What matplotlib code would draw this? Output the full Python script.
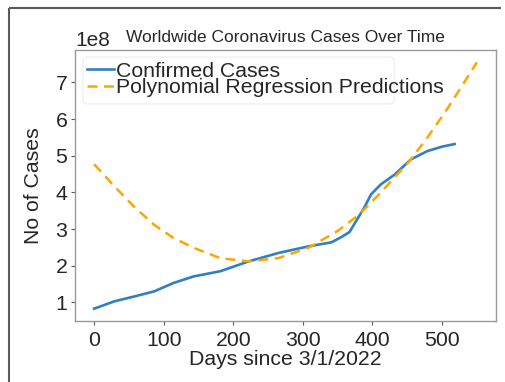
import matplotlib
matplotlib.use("Agg")
import matplotlib.pyplot as plt
from matplotlib.lines import Line2D
from matplotlib.patches import FancyBboxPatch

plt.rcParams['font.family'] = ['Liberation Sans', 'DejaVu Sans']

# Confirmed worldwide cases (in units of 1e8) by day since 3/1/2022
days_confirmed = [0, 29, 57, 86, 114, 143, 181, 222, 265, 308, 341, 355,
                  367, 379, 388, 398, 412, 432, 455, 479, 500, 518]
confirmed = [0.83, 1.03, 1.16, 1.30, 1.53, 1.71, 1.85, 2.12, 2.35, 2.53, 2.64, 2.78,
             2.92, 3.30, 3.58, 3.95, 4.22, 4.49, 4.90, 5.13, 5.25, 5.32]

# Polynomial regression predictions (in units of 1e8)
days_pred = [0, 29, 57, 86, 114, 143, 181, 222, 265, 308, 350, 381,
             412, 453, 477, 503, 525, 550]
predicted = [4.77, 4.17, 3.62, 3.12, 2.76, 2.49, 2.21, 2.12, 2.21, 2.49, 2.95, 3.40,
             4.00, 4.85, 5.45, 6.15, 6.80, 7.55]

scale = 1e8
conf_vals = [v * scale for v in confirmed]
pred_vals = [v * scale for v in predicted]

fig = plt.figure(figsize=(5.06, 3.82), dpi=100)
ax = fig.add_axes([75 / 506, 61 / 382, 421 / 506, 271 / 382])

ax.plot(days_confirmed, conf_vals, color='#2f7fc1', lw=1.9, label='Confirmed Cases')
ax.plot(days_pred, pred_vals, color='orange', lw=1.8, ls=(0, (4, 2.6)),
        label='Polynomial Regression Predictions')

ax.set_xticks([0, 100, 200, 300, 400, 500])
ax.set_yticks([1e8, 2e8, 3e8, 4e8, 5e8, 6e8, 7e8])
ax.tick_params(labelsize=15.3, length=3, width=0.8, color='0.35', labelcolor='0.15')
ax.tick_params(axis='x', pad=4)
ax.tick_params(axis='y', pad=2.5)
ax.yaxis.get_offset_text().set_fontsize(15)
ax.yaxis.get_offset_text().set_color('0.15')

for s in ax.spines.values():
    s.set_color('0.6')
    s.set_linewidth(1.0)

ax.set_xlabel('Days since 3/1/2022', fontsize=15.3, color='0.15', labelpad=0)
ax.set_ylabel('No of Cases', fontsize=15.3, color='0.15', labelpad=9)
ax.set_title('Worldwide Coronavirus Cases Over Time', fontsize=12.5,
             family=['Liberation Sans Narrow', 'Liberation Sans'], color='0.15', pad=6)

# Legend entries; the text runs past the narrow frame drawn behind it
leg = ax.legend(loc='upper left', fontsize=15.3, handlelength=1.3, handletextpad=0.08,
                labelspacing=-0.12, borderpad=0.25, borderaxespad=0.3,
                frameon=False)
for t in leg.get_texts():
    t.set_color('0.15')
frame = FancyBboxPatch((0.019, 0.801), 0.739, 0.173, transform=ax.transAxes,
                       boxstyle='round,pad=0,rounding_size=0.012',
                       facecolor='white', edgecolor='0.93', lw=0.8, zorder=4.9)
ax.add_patch(frame)
leg.set_zorder(5)

# Outer frame edges (top and left) around the figure
x0, y0 = 8.5 / 506, 1 - 7.5 / 382
fig.add_artist(Line2D([x0, 0.99], [y0, y0], transform=fig.transFigure,
                      color='0.35', lw=1.5, solid_capstyle='butt'))
fig.add_artist(Line2D([x0, x0], [0.0, y0], transform=fig.transFigure,
                      color='0.35', lw=1.5, solid_capstyle='butt'))

fig.savefig('out.png', dpi=100)
